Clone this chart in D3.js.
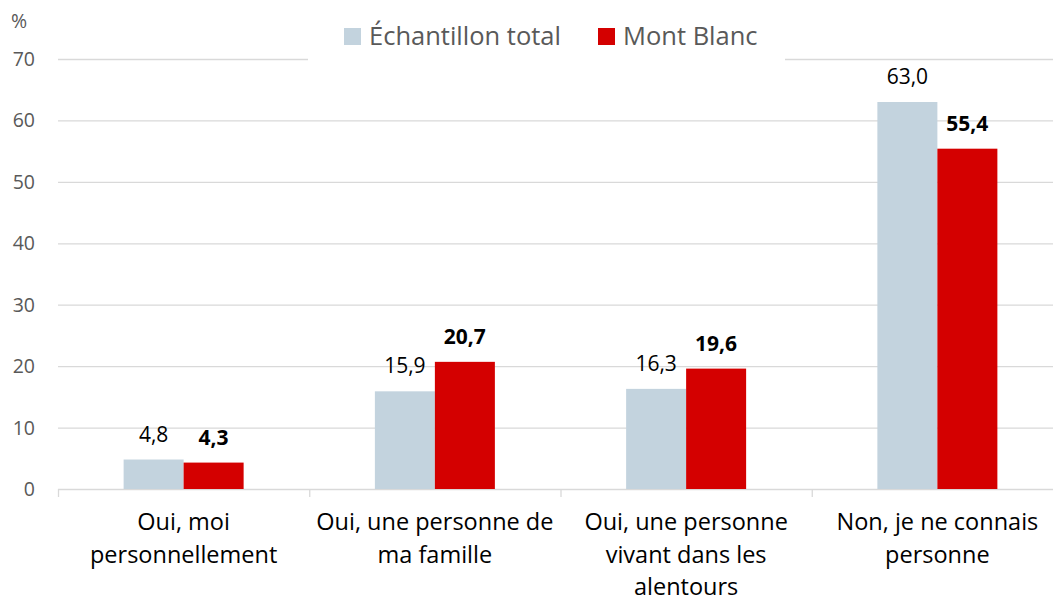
<html>
<head>
<meta charset="utf-8">
<script src="https://d3js.org/d3.v7.min.js"></script>
<style>
body { margin: 0; background: white; }
text { font-family: "Open Sans", sans-serif; }
</style>
</head>
<body>
<svg width="1053" height="603" id="chart"></svg>
<script>

// data
var categories = [
  ["Oui, moi", "personnellement"],
  ["Oui, une personne de", "ma famille"],
  ["Oui, une personne", "vivant dans les", "alentours"],
  ["Non, je ne connais", "personne"]
];
var seriesNames = ["Échantillon total", "Mont Blanc"];
var totalValues = [4.8, 15.9, 16.3, 63.0];
var montBlancValues = [4.3, 20.7, 19.6, 55.4];
var yTicks = [0, 10, 20, 30, 40, 50, 60, 70];

var colors = ["#c3d3de", "#d40000"];

var svg = d3.select("#chart");

var plotLeft = 58, plotRight = 1063, plotTop = 59, plotBottom = 489;
var barW = 60;

var x = d3.scaleBand()
  .domain(d3.range(categories.length))
  .range([plotLeft, plotRight])
  .paddingInner(0)
  .paddingOuter(0);

// two bars side by side, centred in each category
var xs = d3.scaleBand()
  .domain([0, 1])
  .range([x.bandwidth() / 2 - barW, x.bandwidth() / 2 + barW]);

var y = d3.scaleLinear()
  .domain([0, 70])
  .range([plotBottom, plotTop]);

// gridlines
svg.append("g")
  .selectAll("line")
  .data(yTicks)
  .enter().append("line")
  .attr("x1", plotLeft)
  .attr("x2", plotRight)
  .attr("y1", function(d) { return y(d) + 0.5; })
  .attr("y2", function(d) { return y(d) + 0.5; })
  .style("stroke", "#d9d9d9")
  .style("stroke-width", 1.3);

// tick labels
svg.append("g")
  .selectAll("text")
  .data(yTicks)
  .enter().append("text")
  .attr("x", 35)
  .attr("y", function(d) { return y(d) + 7; })
  .attr("text-anchor", "end")
  .style("font-size", "19.5px")
  .style("fill", "#595959")
  .text(function(d) { return d; });

svg.append("text")
  .attr("x", 11)
  .attr("y", 28)
  .style("font-size", "19.5px")
  .style("fill", "#595959")
  .text("%");

// category separator ticks
svg.append("g")
  .selectAll("line")
  .data(d3.range(categories.length + 1))
  .enter().append("line")
  .attr("x1", function(d) { return plotLeft + d * x.bandwidth() + 0.5; })
  .attr("x2", function(d) { return plotLeft + d * x.bandwidth() + 0.5; })
  .attr("y1", plotBottom)
  .attr("y2", plotBottom + 8)
  .style("stroke", "#d9d9d9")
  .style("stroke-width", 1.3);

var series = [totalValues, montBlancValues];

series.forEach(function(vals, s) {
  var g = svg.append("g");
  g.selectAll("rect")
    .data(vals)
    .enter().append("rect")
    .attr("x", function(d, i) { return x(i) + xs(s); })
    .attr("width", xs.bandwidth())
    .attr("y", function(d) { return y(d); })
    .attr("height", function(d) { return y(0) - y(d); })
    .attr("fill", colors[s]);

  g.selectAll("text")
    .data(vals)
    .enter().append("text")
    .attr("x", function(d, i) { return x(i) + xs(s) + xs.bandwidth() / 2; })
    .attr("y", function(d) { return y(d) - 18; })
    .attr("text-anchor", "middle")
    .style("font-size", "21px")
    .style("font-weight", s == 1 ? "bold" : "normal")
    .style("fill", "#000")
    .text(function(d) { return d3.format(".1f")(d).replace(".", ","); });
});

// category labels
var catG = svg.append("g");
categories.forEach(function(lines, i) {
  var t = catG.append("text")
    .attr("text-anchor", "middle")
    .style("font-size", "23.5px")
    .style("fill", "#000");
  lines.forEach(function(line, j) {
    t.append("tspan")
      .attr("x", x(i) + x.bandwidth() / 2)
      .attr("y", 530 + j * 32.5)
      .text(line);
  });
});

// legend with white box
var legend = svg.append("g");
legend.append("rect")
  .attr("x", 308)
  .attr("y", 14)
  .attr("width", 477)
  .attr("height", 52)
  .attr("fill", "white");

var legendX = [344, 598];
seriesNames.forEach(function(name, s) {
  legend.append("rect")
    .attr("x", legendX[s])
    .attr("y", 28)
    .attr("width", 17)
    .attr("height", 17)
    .attr("fill", colors[s]);
  legend.append("text")
    .attr("x", legendX[s] + 25)
    .attr("y", 45)
    .style("font-size", "25.5px")
    .style("fill", "#595959")
    .text(name);
});

</script>
</body>
</html>
